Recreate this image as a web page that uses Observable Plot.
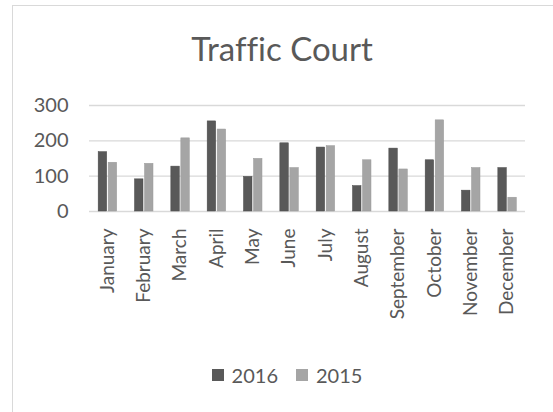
<!DOCTYPE html>
<html><head><meta charset="utf-8">
<script src="https://cdn.jsdelivr.net/npm/d3@7"></script>
<script src="https://cdn.jsdelivr.net/npm/@observablehq/plot@0.6"></script>
<style>
body{margin:0;background:#fff;font-family:Lato,"Open Sans",sans-serif;font-variant-ligatures:none;}
#wrap{position:relative;width:553px;height:412px;overflow:hidden;background:#fff;}
#frame{position:absolute;left:12px;top:5px;width:560px;height:430px;border:1.5px solid #d9d9d9;box-sizing:border-box;}
#title{position:absolute;left:12px;width:540px;top:30px;text-align:center;font-size:33px;line-height:36px;color:#595959;font-variant-ligatures:none;font-feature-settings:"liga" 0;}
#chart{position:absolute;left:0;top:90px;}
#legend{position:absolute;left:12px;width:550px;top:364px;display:flex;justify-content:center;align-items:center;font-size:20px;line-height:22px;color:#595959;}
#legend .item{display:flex;align-items:center;margin:0 9px;}
#legend .sw{width:12px;height:12px;margin-right:8px;}
</style>
</head><body>
<div id="wrap">
  <div id="frame"></div>
  <div id="title">Traffic Court</div>
  <div id="chart"></div>
  <div id="legend"></div>
</div>
<script>
const months = ["January","February","March","April","May","June","July","August","September","October","November","December"];
const values2016 = [168, 91, 127, 255, 98, 193, 181, 72, 178, 145, 59, 123];
const values2015 = [138, 135, 207, 232, 149, 123, 185, 145, 119, 258, 123, 39];
const series = ["2016", "2015"];
const colors = ["#595959", "#a5a5a5"];
const yTicks = [0, 100, 200, 300];

const W = 553, H = 240, ML = 89, MR = 28;
const step = (W - ML - MR) / months.length;

const rows2016 = months.map((m, i) => ({month: m, value: values2016[i]}));
const rows2015 = months.map((m, i) => ({month: m, value: values2015[i]}));

const chart = Plot.plot({
  width: W, height: H,
  marginLeft: ML, marginRight: MR, marginTop: 15, marginBottom: 119,
  style: {fontFamily: "Lato, 'Open Sans', sans-serif", fontSize: "19px", color: "#595959", background: "transparent"},
  x: {domain: months, padding: 0, round: false, label: null},
  y: {domain: [0, 300], label: null},
  marks: [
    Plot.ruleY(yTicks, {stroke: "#d9d9d9", strokeWidth: 1.3}),
    Plot.barY(rows2016, {x: "month", y: "value", fill: colors[0], stroke: "#4a4a4a", strokeWidth: 0.5,
      insetLeft: step/2 - 9, insetRight: step/2 + 0.5}),
    Plot.barY(rows2015, {x: "month", y: "value", fill: colors[1], stroke: "#9a9a9a", strokeWidth: 0.5,
      insetLeft: step/2 + 1, insetRight: step/2 - 9.5}),
    Plot.axisY({ticks: yTicks, tickSize: 0, tickPadding: 21, fontSize: 20, tickFormat: d => d, label: null}),
    Plot.axisX({tickSize: 0, tickPadding: 17, tickRotate: -90, fontSize: 19, label: null})
  ]
});
document.getElementById("chart").appendChild(chart);

const legend = document.getElementById("legend");
series.forEach((s, i) => {
  const item = document.createElement("div");
  item.className = "item";
  const sw = document.createElement("span");
  sw.className = "sw";
  sw.style.background = colors[i];
  const t = document.createElement("span");
  t.textContent = s;
  item.appendChild(sw); item.appendChild(t);
  legend.appendChild(item);
});
</script>
</body></html>
